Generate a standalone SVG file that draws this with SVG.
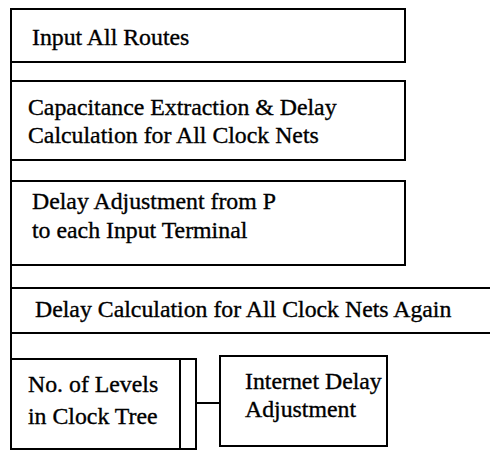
<svg xmlns="http://www.w3.org/2000/svg" width="490" height="454" viewBox="0 0 490 454">
<style>
.box{fill:none;stroke:#000;stroke-width:2}
.ln{fill:none;stroke:#000;stroke-width:2}
text{font-family:"Liberation Serif","Times New Roman",serif;font-size:23.8px;fill:#000;stroke:#000;stroke-width:0.35}
</style>
<rect width="490" height="454" fill="#fff"/>
<g id="connectors">
<line class="ln" x1="11" y1="62" x2="11" y2="81"/>
<line class="ln" x1="11" y1="160" x2="11" y2="181"/>
<line class="ln" x1="11" y1="265" x2="11" y2="288"/>
<line class="ln" x1="11" y1="333" x2="11" y2="359"/>
<line class="ln" x1="196" y1="403" x2="220" y2="403"/>
</g>
<g id="input-all-routes">
<rect class="box" x="11" y="9" width="394" height="53"/>
<text x="32" y="45">Input All Routes</text>
</g>
<g id="capacitance-extraction">
<rect class="box" x="11" y="81" width="394" height="79"/>
<text x="28" y="115">Capacitance Extraction &amp; Delay</text>
<text x="28" y="143">Calculation for All Clock Nets</text>
</g>
<g id="delay-adjustment">
<rect class="box" x="11" y="181" width="394" height="84"/>
<text x="32" y="209">Delay Adjustment from P</text>
<text x="32" y="238">to each Input Terminal</text>
</g>
<g id="delay-calculation-again">
<path class="ln" d="M490 288H11V333H490"/>
<text x="35" y="317">Delay Calculation for All Clock Nets Again</text>
</g>
<g id="levels-in-clock-tree">
<rect class="box" x="11" y="359" width="185" height="90"/>
<line class="ln" x1="180" y1="359" x2="180" y2="449"/>
<text x="28" y="392">No. of Levels</text>
<text x="28" y="424">in Clock Tree</text>
</g>
<g id="internet-delay-adjustment">
<rect class="box" x="220" y="356" width="167" height="90"/>
<text x="245" y="389">Internet Delay</text>
<text x="245" y="417">Adjustment</text>
</g>
</svg>
